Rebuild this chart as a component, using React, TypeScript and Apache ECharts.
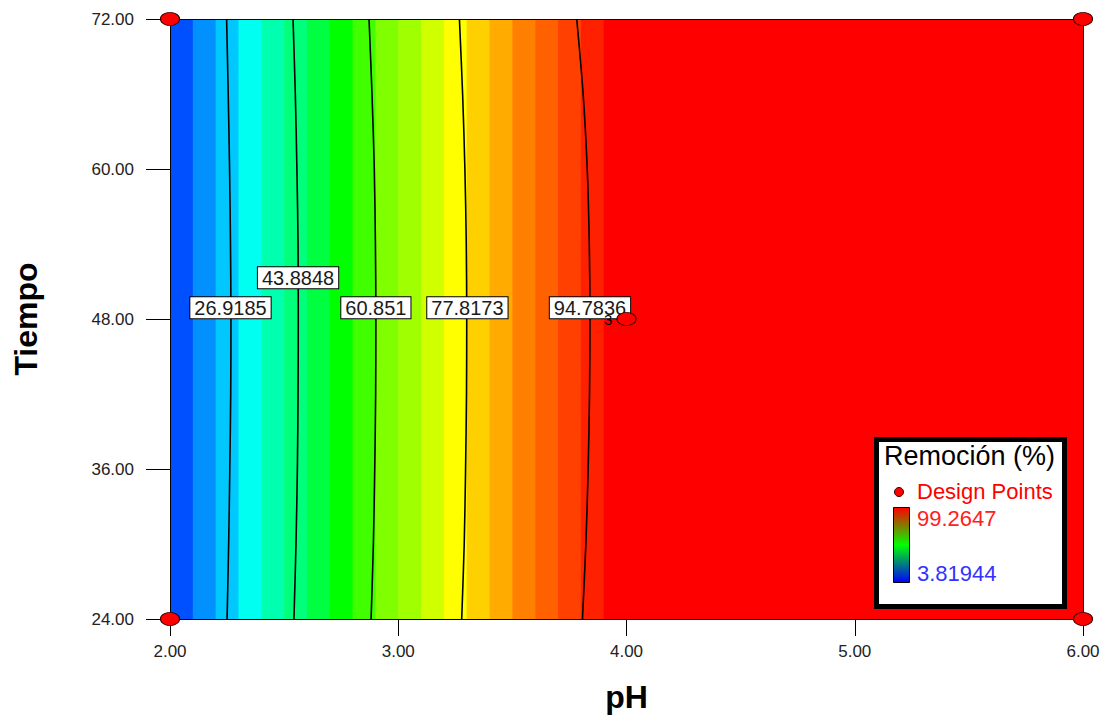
import React, { useEffect, useRef } from 'react';
import * as echarts from 'echarts';

// ---- data ----
const phBandStart = [2.0, 2.1, 2.2, 2.3, 2.4, 2.5, 2.6, 2.7, 2.8, 2.9, 3.0, 3.1, 3.2, 3.3, 3.4, 3.5, 3.6, 3.7, 3.8, 3.9];
const phBandEnd = [2.1, 2.2, 2.3, 2.4, 2.5, 2.6, 2.7, 2.8, 2.9, 3.0, 3.1, 3.2, 3.3, 3.4, 3.5, 3.6, 3.7, 3.8, 3.9, 6.0];
const removalBand = [11.3, 17.4, 22.5, 29.1, 35.3, 40.1, 45.5, 51.5, 57.5, 63.5, 66.5, 71.0, 75.4, 79.8, 83.3, 87.3, 90.3, 93.3, 96.3, 99.26];

const removalMin = 3.81944;
const removalMax = 99.2647;

const tiempoSteps = [24, 30, 36, 42, 48, 54, 60, 66, 72];
const contourNames = ['26.9185', '43.8848', '60.851', '77.8173', '94.7836'];
const contourPh = [
  [2.250, 2.257, 2.262, 2.266, 2.267, 2.265, 2.261, 2.255, 2.248],
  [2.543, 2.552, 2.558, 2.561, 2.562, 2.561, 2.556, 2.549, 2.539],
  [2.881, 2.891, 2.897, 2.901, 2.902, 2.900, 2.895, 2.885, 2.872],
  [3.278, 3.289, 3.295, 3.299, 3.300, 3.298, 3.292, 3.282, 3.268],
  [3.807, 3.822, 3.832, 3.838, 3.840, 3.837, 3.828, 3.810, 3.782],
];
const contourLabelPh = [2.265, 2.561, 2.902, 3.303, 3.840];
const contourLabelTiempo = [48.9, 51.3, 48.9, 48.9, 48.9];

const designPh = [2, 2, 6, 6, 4];
const designTiempo = [24, 72, 24, 72, 48];
const designReplicates = ['', '', '', '', '3'];

const xMin = 2, xMax = 6, xStep = 1;
const yMin = 24, yMax = 72, yStep = 12;

const FONT = '"Liberation Sans", Arial, sans-serif';
const jet = ['#0000ff', '#00ffff', '#00ff00', '#ffff00', '#ff0000'];

export default function App() {
  const ref = useRef<HTMLDivElement>(null);
  useEffect(() => {
    if (!ref.current) return;
    const chart = echarts.init(ref.current, undefined, { renderer: 'svg' });

    const bandData = phBandStart.map((s, i) => [s, phBandEnd[i], removalBand[i]]);

    const contourSeries = contourPh.map((arr, i) => ({
      type: 'line',
      name: contourNames[i],
      data: tiempoSteps.map((t, j) => [arr[j], t]),
      smooth: 0.3,
      symbol: 'none',
      lineStyle: { color: '#000', width: 1.6, opacity: 1 },
      z: 3,
      silent: true,
    }));

    const option: any = {
      animation: false,
      backgroundColor: '#ffffff',
      textStyle: { fontFamily: FONT },
      grid: { left: 170, right: 28, top: 19, bottom: 108, containLabel: false },
      visualMap: {
        show: false,
        seriesIndex: 0,
        dimension: 2,
        min: removalMin,
        max: removalMax,
        inRange: { color: jet },
      },
      xAxis: [
        {
          type: 'value',
          min: xMin,
          max: xMax,
          interval: xStep,
          z: 4,
          name: 'pH',
          nameLocation: 'middle',
          nameGap: 62,
          nameTextStyle: { fontSize: 32, fontWeight: 'bold', color: '#000', fontFamily: FONT },
          axisLine: { lineStyle: { color: '#000', width: 1 } },
          axisTick: { show: true, length: 17, lineStyle: { color: '#000' } },
          axisLabel: { formatter: (v: number) => v.toFixed(2), fontSize: 17, color: '#222', margin: 24, fontFamily: FONT },
          splitLine: { show: false },
        },
        {
          type: 'value',
          position: 'top',
          min: xMin,
          max: xMax,
          z: 4,
          axisLine: { show: true, onZero: false, lineStyle: { color: '#000', width: 1 } },
          axisTick: { show: false },
          axisLabel: { show: false },
          splitLine: { show: false },
        },
      ],
      yAxis: [
        {
          type: 'value',
          min: yMin,
          max: yMax,
          interval: yStep,
          z: 4,
          name: 'Tiempo',
          nameLocation: 'middle',
          nameGap: 128,
          nameRotate: 90,
          nameTextStyle: { fontSize: 32, fontWeight: 'bold', color: '#000', fontFamily: FONT },
          axisLine: { show: true, lineStyle: { color: '#000', width: 1 } },
          axisTick: { show: true, length: 24, lineStyle: { color: '#000' } },
          axisLabel: { formatter: (v: number) => v.toFixed(2), fontSize: 17, color: '#222', margin: 36, fontFamily: FONT },
          splitLine: { show: false },
        },
        {
          type: 'value',
          position: 'right',
          min: yMin,
          max: yMax,
          z: 4,
          axisLine: { show: true, onZero: false, lineStyle: { color: '#000', width: 1 } },
          axisTick: { show: false },
          axisLabel: { show: false },
          splitLine: { show: false },
        },
      ],
      series: [
        {
          type: 'custom',
          dimensions: ['start', 'end', 'removal'],
          encode: { x: [0, 1] },
          data: bandData,
          z: 1,
          silent: true,
          renderItem: (params: any, api: any) => {
            const p0 = api.coord([api.value(0), yMax]);
            const p1 = api.coord([api.value(1), yMin]);
            return {
              type: 'rect',
              shape: { x: p0[0], y: p0[1], width: p1[0] - p0[0] + 0.6, height: p1[1] - p0[1] },
              style: { fill: api.visual('color'), stroke: null },
            };
          },
        },
        ...contourSeries,
        {
          type: 'scatter',
          data: contourLabelPh.map((p, i) => ({ value: [p, contourLabelTiempo[i]], name: contourNames[i] })),
          symbolSize: 0,
          z: 6,
          silent: true,
          itemStyle: { opacity: 1 },
          label: {
            show: true,
            position: 'inside',
            formatter: (p: any) => p.name,
            fontSize: 20,
            fontFamily: FONT,
            color: '#1a1a1a',
            opacity: 1,
            backgroundColor: '#ffffff',
            borderColor: '#000',
            borderWidth: 1,
            padding: [1, 4, 0, 4],
            lineHeight: 20,
          },
        },
        {
          type: 'scatter',
          data: designPh.map((p, i) => ({ value: [p, designTiempo[i]], name: designReplicates[i] })),
          symbol: 'circle',
          symbolSize: [19, 13],
          z: 8,
          silent: true,
          itemStyle: { color: '#ff0000', borderColor: '#3a0000', borderWidth: 1, opacity: 1 },
          label: {
            show: true,
            position: 'left',
            distance: 4,
            formatter: (p: any) => p.name,
            fontSize: 15,
            fontFamily: FONT,
            color: '#000',
            opacity: 1,
          },
        },
      ],
      graphic: [
        {
          type: 'rect',
          shape: { x: 876.5, y: 439.5, width: 188, height: 167 },
          style: { fill: '#ffffff', stroke: '#000', lineWidth: 5 },
          z: 20,
        },
        {
          type: 'text',
          x: 884,
          y: 456,
          style: { text: 'Remoción (%)', fontSize: 27, fontFamily: FONT, fill: '#000', verticalAlign: 'middle', align: 'left' },
          z: 21,
        },
        {
          type: 'circle',
          shape: { cx: 899, cy: 492, r: 4.5 },
          style: { fill: '#ff0000', stroke: '#3a0000', lineWidth: 1 },
          z: 21,
        },
        {
          type: 'text',
          x: 917,
          y: 491,
          style: { text: 'Design Points', fontSize: 22, fontFamily: FONT, fill: '#ff0000', verticalAlign: 'middle', align: 'left' },
          z: 21,
        },
        {
          type: 'rect',
          shape: { x: 893.5, y: 507.5, width: 16, height: 75 },
          style: {
            fill: new echarts.graphic.LinearGradient(0, 0, 0, 1, [
              { offset: 0, color: '#ff0000' },
              { offset: 0.5, color: '#00ff00' },
              { offset: 1, color: '#0000ff' },
            ]),
            stroke: '#000',
            lineWidth: 1,
          },
          z: 21,
        },
        {
          type: 'text',
          x: 917,
          y: 518,
          style: { text: '99.2647', fontSize: 22, fontFamily: FONT, fill: '#ff2020', verticalAlign: 'middle', align: 'left' },
          z: 21,
        },
        {
          type: 'text',
          x: 917,
          y: 573,
          style: { text: '3.81944', fontSize: 22, fontFamily: FONT, fill: '#3333ff', verticalAlign: 'middle', align: 'left' },
          z: 21,
        },
      ],
    };

    chart.setOption(option);
    return () => chart.dispose();
  }, []);

  return <div ref={ref} style={{ position: 'absolute', left: 0, top: 0, width: 1111, height: 727 }} />;
}
